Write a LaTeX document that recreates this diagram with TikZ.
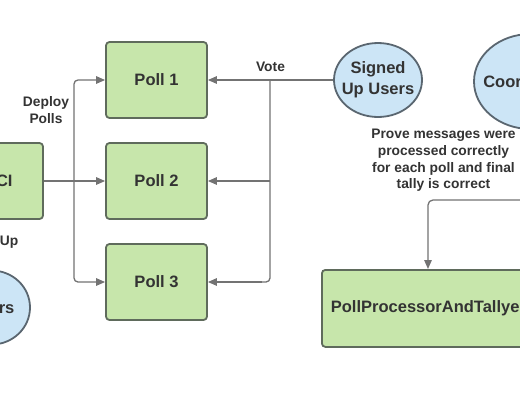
\documentclass[tikz,border=0pt]{standalone}
\usepackage{fontspec}
\setmainfont{Liberation Sans}
\usetikzlibrary{arrows.meta,shapes.geometric}
\definecolor{boxfill}{HTML}{C7E6AB}
\definecolor{boxline}{HTML}{5F6B5C}
\definecolor{ellfill}{HTML}{CCE5F6}
\definecolor{ellline}{HTML}{5A6670}
\definecolor{conn}{HTML}{737373}
\definecolor{txt}{HTML}{333333}
\tikzset{
  box/.style={draw=boxline, fill=boxfill, line width=1.8pt, rounded corners=3.5pt,
    inner sep=0pt, font=\fontsize{16.5}{20}\selectfont\bfseries, text=txt},
  ell/.style={ellipse, draw=ellline, fill=ellfill, line width=1.8pt, inner sep=0pt},
  elltext/.style={font=\fontsize{16.5}{21}\selectfont\bfseries, text=txt, align=center, inner sep=0pt},
  lbl/.style={font=\fontsize{13.8}{16.7}\selectfont\bfseries, text=txt, align=center, inner sep=0pt},
  wire/.style={draw=conn, line width=1.3pt},
  arr/.style={wire, -{Triangle[length=9pt,width=7.5pt]}},
}
\begin{document}
\begin{tikzpicture}[x=1pt,y=-1pt]
\useasboundingbox (0,0) rectangle (520,400);
\clip (0,0) rectangle (520,400);
\fill[white] (0,0) rectangle (520,400);
% nodes
\node[box, minimum width=101pt, minimum height=76pt] (p1) at (156.5,80) {Poll 1};
\node[box, minimum width=101pt, minimum height=76pt] (p2) at (156.5,181) {Poll 2};
\node[box, minimum width=101pt, minimum height=76pt] (p3) at (156.5,282) {Poll 3};
\node[box, minimum width=103pt, minimum height=76pt] (maci) at (-8.5,181) {MACI};
\node[box, minimum width=215pt, minimum height=77pt, anchor=north west] (ppt) at (321,269) {\hspace*{-2pt}PollProcessorAndTallyer};
\node[ell, minimum width=88pt, minimum height=74pt] (suu) at (378,80) {};
\node[elltext] (suut) at (suu.center) {Signed\\Up Users};
\node[ell, minimum width=113pt, minimum height=95pt] (coord) at (530.5,81.5) {};
\node[elltext] (coordt) at (coord.center) {Coordinator};
\node[ell, minimum width=77pt, minimum height=74pt] (users) at (-8.5,307.5) {};
\node[elltext] (userst) at (users.center) {Users};
% labels
\node[lbl] (lvote) at (270.5,67) {Vote};
\node[lbl] (ldeploy) at (46,110) {Deploy\\Polls};
\node[lbl, anchor=east] (lsign) at (18.5,242) {Sign Up};
\node[lbl] (lprove) at (443.5,160.5) {Prove messages were\\processed correctly\\for each poll and final\\tally is correct};
% coordinates
\coordinate (vj) at (270,80);
\coordinate (dj) at (74,181);
\coordinate (rin) at (540,200);
% vote connectors
\draw[arr] (suu.west) -- (p1.east);
\draw[wire, rounded corners=4pt] (vj) -- (vj |- p3.east) -- (p3.east -| 255,0);
\draw[arr] (vj |- p3.east) ++(-8,0) -- (p3.east);
\draw[arr] (vj |- p2.east) -- (p2.east);
% deploy connectors
\draw[arr] (maci.east) -- (p2.west);
\draw[arr, rounded corners=4pt] (dj) -- (dj |- p1.west) -- (p1.west);
\draw[arr, rounded corners=4pt] (dj) -- (dj |- p3.west) -- (p3.west);
% prove connector
\draw[arr, rounded corners=5pt] (rin) -- (428,200) -- (428,0 |- ppt.north);
\end{tikzpicture}
\end{document}
